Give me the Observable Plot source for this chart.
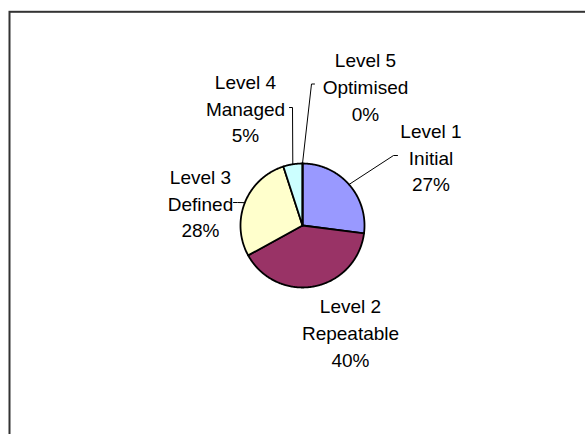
<!DOCTYPE html>
<html>
<head>
<meta charset="utf-8">
<script src="https://cdn.jsdelivr.net/npm/d3@7"></script>
<script src="https://cdn.jsdelivr.net/npm/@observablehq/plot@0.6"></script>
<style>
  html, body { margin: 0; padding: 0; background: #fff; overflow: hidden; }
</style>
</head>
<body>
<div id="chart"></div>
<script>
// Maturity level distribution
const levels = ["Level 1", "Level 2", "Level 3", "Level 4", "Level 5"];
const stages = ["Initial", "Repeatable", "Defined", "Managed", "Optimised"];
const shares = [27, 40, 28, 5, 0];

// Slice fills, in level order
const sliceColors = ["#9999FF", "#993366", "#FFFFCC", "#CCFFFF", "#660066"];

// Layout: pie centre and radius in pixels
const W = 585, H = 434, CX = 302, CY = 225, R = 62;
// Label block centres, pixels from the pie centre (y downwards)
const labelOffsets = [[128.5, -69.4], [48, 106], [-102, -23.4], [-57, -118.4], [63, -140]];
// Leader line bends after leaving the slice edge (null = no leader)
const leaderBends = [
  [[91, -70], [95, -70]],
  null,
  [[-65, -23], [-69, -23]],
  [[-10, -118], [-13, -118]],
  [[9, -141.5], [12, -141.5]]
];

// Pie angles: clockwise from 12 o'clock, in data order
const arcs = d3.pie().sort(null).value(d => d)(shares);

// Slice outlines as closed polygons in pie units (radius = 1, y up)
const slices = [];
arcs.forEach((a, i) => {
  const n = Math.max(1, Math.ceil((a.endAngle - a.startAngle) / (Math.PI / 360)));
  slices.push({level: levels[i], x: 0, y: 0});
  for (let k = 0; k <= n; k++) {
    const t = a.startAngle + (a.endAngle - a.startAngle) * k / n;
    slices.push({level: levels[i], x: Math.sin(t), y: Math.cos(t)});
  }
  slices.push({level: levels[i], x: 0, y: 0});
});

// Leader lines from the slice mid-angle on the rim to the label
const leaders = [];
arcs.forEach((a, i) => {
  if (!leaderBends[i]) return;
  const m = (a.startAngle + a.endAngle) / 2;
  leaders.push({level: levels[i], x: Math.sin(m), y: Math.cos(m)});
  for (const [px, py] of leaderBends[i]) leaders.push({level: levels[i], x: px / R, y: -py / R});
});

const labels = levels.map((l, i) => ({
  level: l,
  x: labelOffsets[i][0] / R,
  y: -labelOffsets[i][1] / R,
  text: `${l}\n${stages[i]}\n${shares[i]}%`
}));

const font = "'Liberation Sans', Arial, Helvetica, sans-serif";

const chart = Plot.plot({
  width: W,
  height: H,
  margin: 0,
  x: {domain: [-CX / R, (W - CX) / R], axis: null},
  y: {domain: [-(H - CY) / R, CY / R], axis: null},
  color: {domain: levels, range: sliceColors},
  style: {fontFamily: font, background: "white"},
  marks: [
    Plot.frame({stroke: "#333", strokeWidth: 2, insetLeft: 9, insetTop: 11.3, insetRight: -8, insetBottom: -8}),
    Plot.line(slices, {x: "x", y: "y", z: "level", fill: "level", stroke: "black", strokeWidth: 1.8, strokeLinejoin: "round"}),
    Plot.line(leaders, {x: "x", y: "y", z: "level", stroke: "black", strokeWidth: 1}),
    Plot.text(labels, {x: "x", y: "y", text: "text", fontSize: 19, lineHeight: 1.4, lineAnchor: "middle", fill: "black", fontFamily: font})
  ]
});

document.getElementById("chart").appendChild(chart);
</script>
</body>
</html>
